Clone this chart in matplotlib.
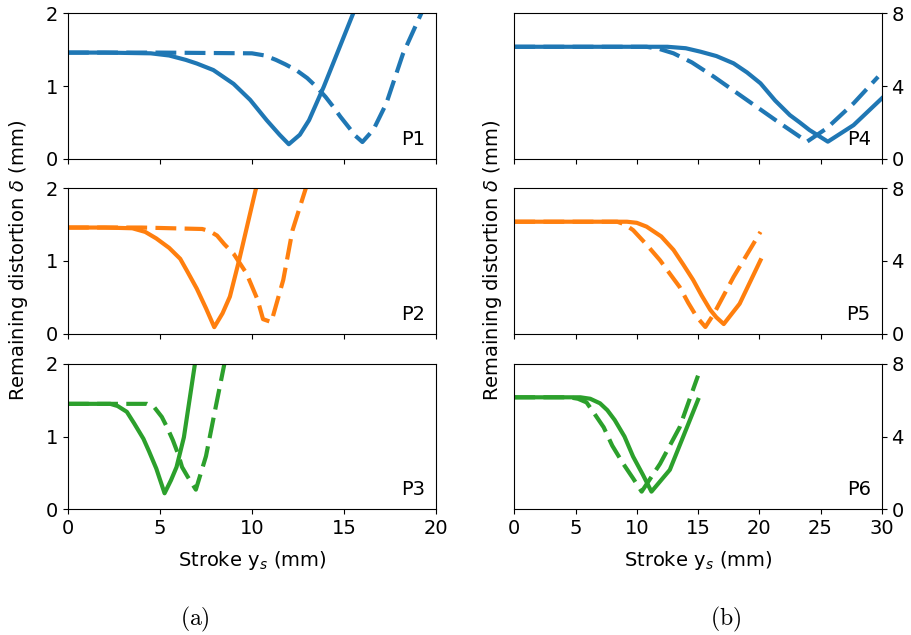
import matplotlib
matplotlib.use("Agg")
from matplotlib import pyplot as plt

plt.rcParams['font.size'] = 14
plt.rcParams['mathtext.fontset'] = 'dejavusans'

# P1 .. P3 (left column), stroke in mm, distortion in mm
p1_x_solid = [0, 2, 4.5, 5.5, 6.4, 7.0, 7.9, 9.0, 9.9, 10.8, 11.5, 12.0, 12.6, 13.1, 13.9, 15.5, 16.5]
p1_y_solid = [1.46, 1.46, 1.45, 1.42, 1.36, 1.31, 1.22, 1.03, 0.81, 0.53, 0.33, 0.20, 0.33, 0.53, 0.99, 2.0, 2.6]
p1_x_dash = [0, 5, 10.0, 10.7, 11.3, 11.8, 12.4, 13.0, 13.5, 14.0, 14.4, 14.8, 15.3, 15.6, 16.0, 16.6, 17.3, 18.2, 19.2, 19.8]
p1_y_dash = [1.46, 1.46, 1.45, 1.42, 1.36, 1.30, 1.22, 1.11, 0.99, 0.85, 0.72, 0.58, 0.42, 0.32, 0.23, 0.40, 0.76, 1.44, 2.0, 2.3]

p2_x_solid = [0, 2, 3.5, 4.2, 4.8, 5.5, 6.1, 6.5, 7.0, 7.5, 7.95, 8.4, 8.8, 9.3, 10.2, 10.8]
p2_y_solid = [1.46, 1.46, 1.45, 1.40, 1.31, 1.18, 1.03, 0.85, 0.62, 0.35, 0.09, 0.28, 0.51, 1.01, 1.98, 2.5]
p2_x_dash = [0, 4, 7.3, 7.7, 8.1, 8.5, 9.0, 9.7, 10.3, 10.6, 11.05, 11.7, 12.2, 12.9, 13.3]
p2_y_dash = [1.46, 1.46, 1.44, 1.41, 1.35, 1.23, 1.10, 0.83, 0.47, 0.20, 0.16, 0.74, 1.42, 1.98, 2.3]

p3_x_solid = [0, 1, 2.3, 2.7, 3.2, 3.6, 4.1, 4.4, 4.8, 5.25, 5.6, 5.9, 6.3, 6.9, 7.2]
p3_y_solid = [1.45, 1.45, 1.45, 1.42, 1.34, 1.18, 0.97, 0.80, 0.56, 0.22, 0.40, 0.58, 0.99, 2.0, 2.4]
p3_x_dash = [0, 2, 4.3, 4.7, 5.1, 5.4, 5.7, 6.0, 6.2, 6.5, 6.95, 7.5, 8.0, 8.5, 8.8]
p3_y_dash = [1.45, 1.45, 1.45, 1.40, 1.27, 1.12, 0.95, 0.75, 0.58, 0.45, 0.27, 0.73, 1.37, 2.0, 2.4]

# P4 .. P6 (right column)
p4_x_solid = [0, 5, 12.5, 14.0, 15.2, 16.5, 17.9, 19.0, 20.1, 21.3, 22.5, 23.3, 24.1, 25.6, 27.7, 30.0]
p4_y_solid = [6.16, 6.16, 6.16, 6.08, 5.89, 5.65, 5.25, 4.75, 4.15, 3.20, 2.40, 2.00, 1.58, 0.94, 1.85, 3.32]
p4_x_dash = [0, 5, 10.8, 11.8, 13.0, 14.5, 16.3, 19.0, 21.7, 23.9, 25.5, 27.7, 29.7]
p4_y_dash = [6.16, 6.16, 6.16, 6.05, 5.80, 5.30, 4.51, 3.23, 1.95, 0.94, 1.67, 3.05, 4.51]

p5_x_solid = [0, 5, 9.2, 10.0, 10.8, 12.0, 13.0, 13.8, 14.6, 15.3, 16.0, 16.5, 17.1, 18.4, 20.1]
p5_y_solid = [6.16, 6.16, 6.16, 6.10, 5.89, 5.35, 4.61, 3.80, 2.96, 2.10, 1.31, 0.90, 0.53, 1.65, 4.04]
p5_x_dash = [0, 5, 8.4, 9.0, 9.7, 10.8, 11.9, 12.7, 13.5, 14.2, 14.9, 15.6, 16.3, 17.9, 20.1]
p5_y_dash = [6.16, 6.16, 6.16, 6.02, 5.70, 4.90, 4.04, 3.30, 2.57, 1.70, 0.92, 0.37, 1.10, 3.12, 5.60]

p6_x_solid = [0, 3, 5.4, 6.2, 7.0, 7.6, 8.2, 9.0, 9.7, 10.5, 11.2, 12.7, 15.0]
p6_y_solid = [6.16, 6.16, 6.16, 6.08, 5.83, 5.45, 4.91, 4.00, 2.90, 1.90, 0.97, 2.17, 6.02]
p6_x_dash = [0, 3, 4.5, 5.2, 5.9, 6.5, 7.3, 8.0, 8.9, 9.7, 10.4, 11.9, 13.5, 15.0]
p6_y_dash = [6.16, 6.16, 6.16, 6.08, 5.88, 5.30, 4.51, 3.50, 2.50, 1.70, 0.97, 2.50, 4.51, 7.35]

left_sets = [(p1_x_solid, p1_y_solid, p1_x_dash, p1_y_dash, 'P1'),
             (p2_x_solid, p2_y_solid, p2_x_dash, p2_y_dash, 'P2'),
             (p3_x_solid, p3_y_solid, p3_x_dash, p3_y_dash, 'P3')]
right_sets = [(p4_x_solid, p4_y_solid, p4_x_dash, p4_y_dash, 'P4'),
              (p5_x_solid, p5_y_solid, p5_x_dash, p5_y_dash, 'P5'),
              (p6_x_solid, p6_y_solid, p6_x_dash, p6_y_dash, 'P6')]
colors = ['#1f77b4', '#ff7f0e', '#2ca02c']

fig = plt.figure(figsize=(9.11, 6.35), dpi=100)
bottoms = [0.750, 0.4745, 0.198]
height = 0.229

for i in range(3):
    xs, ys, xd, yd, name = left_sets[i]
    ax = fig.add_axes([0.0746, bottoms[i], 0.404, height])
    ax.plot(xs, ys, '-', color=colors[i], lw=3)
    ax.plot(xd, yd, '--', color=colors[i], lw=3, dashes=(5, 2))
    ax.set_xlim(0, 20)
    ax.set_ylim(0, 2)
    ax.set_xticks([0, 5, 10, 15, 20])
    ax.set_yticks([0, 1, 2])
    ax.text(0.97, 0.07, name, transform=ax.transAxes, ha='right', va='bottom')
    if i < 2:
        ax.set_xticklabels([])

    xs, ys, xd, yd, name = right_sets[i]
    ax = fig.add_axes([0.5645, bottoms[i], 0.4034, height])
    ax.plot(xs, ys, '-', color=colors[i], lw=3)
    ax.plot(xd, yd, '--', color=colors[i], lw=3, dashes=(5, 2))
    ax.set_xlim(0, 30)
    ax.set_ylim(0, 8)
    ax.set_xticks([0, 5, 10, 15, 20, 25, 30])
    ax.set_yticks([0, 4, 8])
    ax.yaxis.tick_right()
    ax.text(0.97, 0.07, name, transform=ax.transAxes, ha='right', va='bottom')
    if i < 2:
        ax.set_xticklabels([])

fig.text(0.020, 0.59, r'Remaining distortion $\delta$ (mm)', rotation=90, ha='center', va='center')
fig.text(0.541, 0.59, r'Remaining distortion $\delta$ (mm)', rotation=90, ha='center', va='center')
fig.text(0.2766, 0.117, r'Stroke y$_s$ (mm)', ha='center', va='center')
fig.text(0.766, 0.117, r'Stroke y$_s$ (mm)', ha='center', va='center')
fig.text(0.214, 0.025, r'$\mathrm{(a)}$', ha='center', va='center', math_fontfamily='cm', fontsize=17)
fig.text(0.796, 0.025, r'$\mathrm{(b)}$', ha='center', va='center', math_fontfamily='cm', fontsize=17)

plt.savefig('out.png', dpi=100)
